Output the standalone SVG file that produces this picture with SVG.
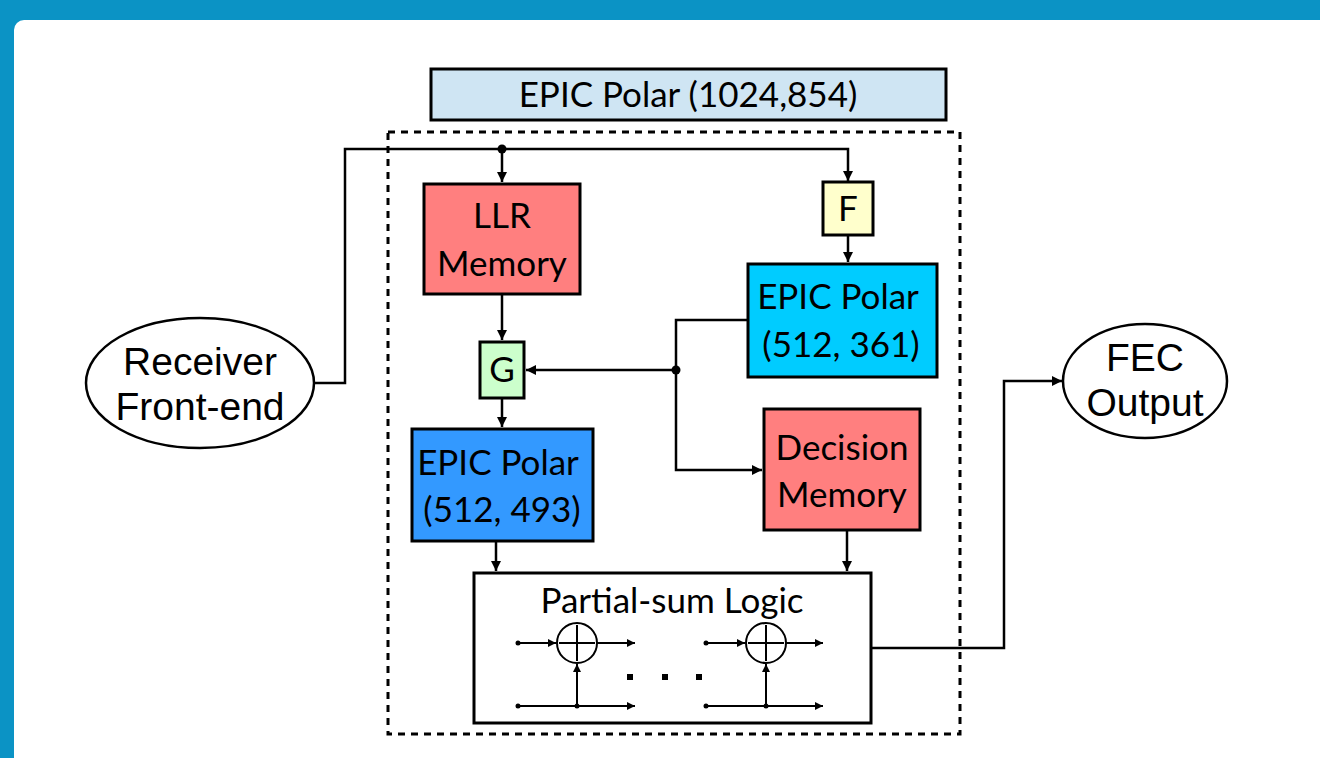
<svg xmlns="http://www.w3.org/2000/svg" width="1320" height="758" viewBox="0 0 1320 758">
<defs>
<marker id="ah" viewBox="0 0 10 10" refX="10" refY="5" markerWidth="9" markerHeight="8" markerUnits="userSpaceOnUse" orient="auto"><path d="M0,0 L10,5 L0,10 z" fill="#000"/></marker>
<marker id="ahs" viewBox="0 0 10 10" refX="10" refY="5" markerWidth="12" markerHeight="10" orient="auto" markerUnits="userSpaceOnUse"><path d="M0,0 L10,5 L0,10 z" fill="#000"/></marker>
<style>
.box{stroke:#000;stroke-width:3}
.t{font-family:Lato,"Open Sans",sans-serif;font-size:35px;fill:#000;text-anchor:middle}
.a{font-family:"Liberation Sans",Arial,sans-serif;font-size:39px;fill:#000;text-anchor:middle}
.ln{fill:none;stroke:#000;stroke-width:2.5}
.th{fill:none;stroke:#000;stroke-width:2}
</style>
</defs>
<rect x="0" y="0" width="1320" height="758" fill="#0b93c5"/>
<path d="M24,20 H1320 V758 H14 V30 A10,10 0 0 1 24,20 z" fill="#fff"/>

<g id="container">
<rect x="388" y="132" width="572" height="602" fill="none" stroke="#000" stroke-width="3" stroke-dasharray="7,6"/>
</g>
<g id="title">
<rect class="box" x="431" y="69" width="515" height="51" fill="#cfe5f3"/>
<text class="t" x="688" y="107">EPIC Polar (1024,854)</text>
</g>
<g id="receiver">
<ellipse cx="200" cy="383" rx="114" ry="65" fill="#fff" stroke="#000" stroke-width="2.5"/>
<text class="a" x="200" y="375">Receiver</text>
<text class="a" x="200" y="420">Front-end</text>
</g>
<g id="fec">
<ellipse cx="1145" cy="381" rx="82" ry="57" fill="#fff" stroke="#000" stroke-width="2.5"/>
<text class="a" x="1145" y="371">FEC</text>
<text class="a" x="1145" y="416">Output</text>
</g>
<g id="llr">
<rect class="box" x="424" y="184" width="156" height="110" fill="#ff7f7f"/>
<text class="t" x="502" y="228">LLR</text>
<text class="t" x="502" y="276">Memory</text>
</g>
<g id="f">
<rect class="box" x="823" y="182" width="50" height="53" fill="#ffffcc"/>
<text class="t" x="848" y="221">F</text>
</g>
<g id="epic361">
<rect class="box" x="748" y="264" width="189" height="113" fill="#00ccff"/>
<text class="t" x="838" y="309">EPIC Polar</text>
<text class="t" x="841" y="357">(512, 361)</text>
</g>
<g id="g">
<rect class="box" x="480" y="342" width="44" height="56" fill="#ccffcc"/>
<text class="t" x="502" y="382">G</text>
</g>
<g id="epic493">
<rect class="box" x="412" y="429" width="181" height="112" fill="#3399ff"/>
<text class="t" x="498" y="475">EPIC Polar</text>
<text class="t" x="502" y="522">(512, 493)</text>
</g>
<g id="decision">
<rect class="box" x="764" y="409" width="156" height="121" fill="#ff7f7f"/>
<text class="t" x="842" y="460">Decision</text>
<text class="t" x="842" y="507">Memory</text>
</g>
<g id="partial">
<rect class="box" x="474" y="573" width="397" height="150" fill="#fff"/>
<text class="t" x="672" y="613">Partial-sum Logic</text>
<circle cx="577" cy="643" r="20" fill="#fff" class="th"/>
<path class="th" d="M577,625 V661 M559,643 H595"/>
<circle cx="766" cy="643" r="20" fill="#fff" class="th"/>
<path class="th" d="M766,625 V661 M748,643 H784"/>
<path class="th" d="M518,643 H556" marker-end="url(#ah)"/>
<path class="th" d="M597,643 H635" marker-end="url(#ah)"/>
<path class="th" d="M518,706 H635" marker-end="url(#ah)"/>
<path class="th" d="M577,706 V664" marker-end="url(#ah)"/>
<path class="th" d="M706,643 H745" marker-end="url(#ah)"/>
<path class="th" d="M786,643 H823" marker-end="url(#ah)"/>
<path class="th" d="M706,706 H823" marker-end="url(#ah)"/>
<path class="th" d="M766,706 V664" marker-end="url(#ah)"/>
<circle cx="518" cy="643" r="2.5"/><circle cx="518" cy="706" r="2.5"/><circle cx="577" cy="706" r="2.5"/>
<circle cx="706" cy="643" r="2.5"/><circle cx="706" cy="706" r="2.5"/><circle cx="766" cy="706" r="2.5"/>
<rect x="627" y="674" width="6" height="6"/><rect x="662" y="674" width="6" height="6"/><rect x="696" y="674" width="6" height="6"/>
</g>
<g id="connectors">
<path class="ln" d="M313,383 H345 V149 H848 V181" marker-end="url(#ahs)"/>
<path class="ln" d="M502,149 V182" marker-end="url(#ahs)"/>
<circle cx="502" cy="149" r="4.5"/>
<path class="ln" d="M848,235 V262" marker-end="url(#ahs)"/>
<path class="ln" d="M502,294 V340" marker-end="url(#ahs)"/>
<path class="ln" d="M502,398 V427" marker-end="url(#ahs)"/>
<path class="ln" d="M748,320 H676 V470 H762" marker-end="url(#ahs)"/>
<path class="ln" d="M676,370 H526" marker-end="url(#ahs)"/>
<circle cx="676" cy="370" r="4.5"/>
<path class="ln" d="M496,541 V571" marker-end="url(#ahs)"/>
<path class="ln" d="M847,530 V571" marker-end="url(#ahs)"/>
<path class="ln" d="M871,648 H1004 V381 H1062" marker-end="url(#ahs)"/>
</g>
</svg>
